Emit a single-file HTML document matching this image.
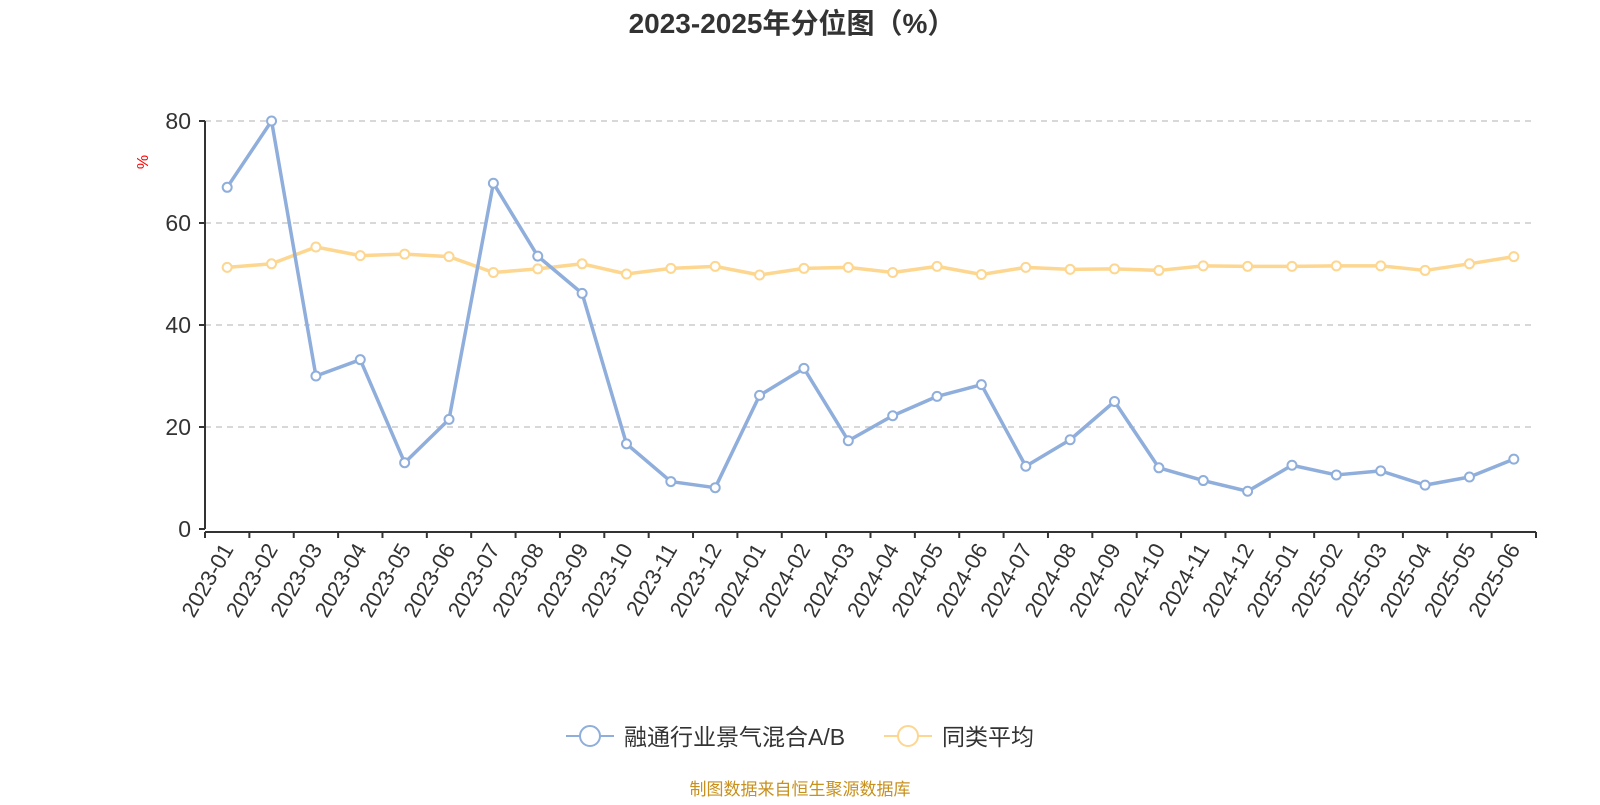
<!DOCTYPE html>
<html><head><meta charset="utf-8"><style>
body{margin:0;background:#fff;width:1600px;height:800px;overflow:hidden;font-family:"Liberation Sans","Noto Sans CJK SC",sans-serif}
</style></head><body>
<svg id="chart" width="1600" height="800" xmlns="http://www.w3.org/2000/svg" font-family="Liberation Sans, Noto Sans CJK SC, sans-serif">
<text x="792" y="33" text-anchor="middle" font-size="28" font-weight="bold" fill="#333">2023-2025年分位图（%）</text>
<text transform="translate(148,162) rotate(-90)" text-anchor="middle" font-size="16" fill="#f00">%</text>
<g id="grid"></g><g id="axes"></g><g id="series"></g>
<g>
<g><line x1="566" y1="736" x2="614" y2="736" stroke="#8faedc" stroke-width="2"/><circle cx="590" cy="736" r="10" fill="#fff" stroke="#8faedc" stroke-width="2"/><text x="624" y="745" font-size="23" fill="#333">融通行业景气混合A/B</text></g>
<g><line x1="884" y1="736" x2="932" y2="736" stroke="#fdd690" stroke-width="2"/><circle cx="908" cy="736" r="10" fill="#fff" stroke="#fdd690" stroke-width="2"/><text x="942" y="745" font-size="23" fill="#333">同类平均</text></g>
</g>
<text x="800" y="795" text-anchor="middle" font-size="17" fill="#c8901c">制图数据来自恒生聚源数据库</text>
</svg>
<script>
const categories=["2023-01","2023-02","2023-03","2023-04","2023-05","2023-06","2023-07","2023-08","2023-09","2023-10","2023-11","2023-12","2024-01","2024-02","2024-03","2024-04","2024-05","2024-06","2024-07","2024-08","2024-09","2024-10","2024-11","2024-12","2025-01","2025-02","2025-03","2025-04","2025-05","2025-06"];
const fundValues=[67,80,30,33.2,13,21.5,67.8,53.5,46.2,16.7,9.3,8.1,26.2,31.5,17.3,22.2,26,28.3,12.3,17.5,25,12,9.5,7.4,12.5,10.6,11.4,8.6,10.2,13.7];
const avgValues=[51.3,52,55.3,53.6,53.9,53.4,50.3,51,52,50,51.1,51.5,49.8,51.1,51.3,50.3,51.5,49.9,51.3,50.9,51,50.7,51.6,51.5,51.5,51.6,51.6,50.7,52,53.4];
const yTicks=[0,20,40,60,80];
const NS="http://www.w3.org/2000/svg";
const X0=205,X1=1536,Y0=529,Y1=121,YMAX=80;
const bw=(X1-X0)/categories.length;
const x=i=>X0+bw*(i+0.5);
const y=v=>Y0-(v/YMAX)*(Y0-Y1);
function mk(tag,attrs,parent){const e=document.createElementNS(NS,tag);for(const k in attrs)e.setAttribute(k,attrs[k]);parent.appendChild(e);return e;}
const grid=document.getElementById('grid'),axes=document.getElementById('axes'),series=document.getElementById('series');
yTicks.forEach(t=>{
 if(t>0){const g=mk('line',{x1:X0,x2:X1,y1:y(t),y2:y(t),stroke:'#ccc','stroke-width':1.5,'stroke-dasharray':'6,5'},grid);
 
 }
 const tk=mk('line',{x1:X0-6,x2:X0,y1:y(t),y2:y(t),stroke:'#333','stroke-width':2},axes);
 
 
 const lb=mk('text',{x:X0-14,y:y(t)+8,'text-anchor':'end','font-size':23,fill:'#333'},axes);lb.textContent=t;
 
 
});
const ya=mk('line',{x1:X0,x2:X0,y1:Y1,y2:Y0,stroke:'#333','stroke-width':2},axes);


const xa=mk('line',{x1:X0,x2:X1,y1:Y0+3,y2:Y0+3,stroke:'#333','stroke-width':2},axes);


for(let i=0;i<=categories.length;i++){const tk=mk('line',{x1:X0+bw*i,x2:X0+bw*i,y1:Y0+3,y2:Y0+9,stroke:'#333','stroke-width':2},axes);
 
 }
categories.forEach((c,i)=>{const t=mk('text',{transform:`translate(${x(i)+7},${Y0+20}) rotate(-60)`,'text-anchor':'end','font-size':22,fill:'#333'},axes);t.textContent=c;
 
 });
function drawSeries(vals,color,name){
 const p=mk('polyline',{points:vals.map((v,i)=>x(i)+','+y(v)).join(' '),fill:'none',stroke:color,'stroke-width':3.5,'stroke-linejoin':'round'},series);
 
 
 vals.forEach((v,i)=>{const c=mk('circle',{cx:x(i),cy:y(v),r:4.5,fill:'#fff',stroke:color,'stroke-width':2},series);
 
 });
}
drawSeries(avgValues,'#fdd690','average');
drawSeries(fundValues,'#8faedc','fund');
</script>
</body></html>
